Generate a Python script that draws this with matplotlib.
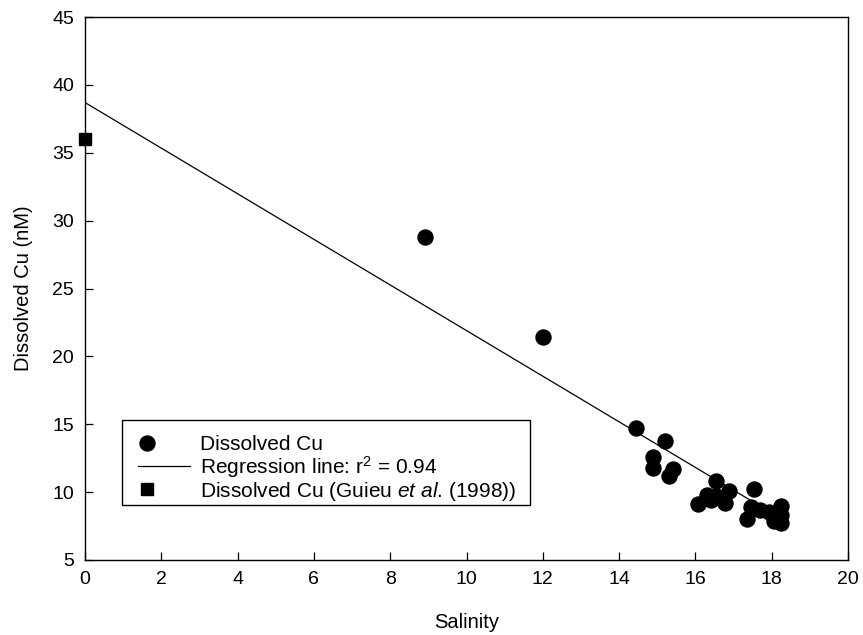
import matplotlib
matplotlib.use("Agg")
import matplotlib.pyplot as plt
from matplotlib.legend_handler import HandlerLine2D
from matplotlib.patches import Rectangle
import numpy as np

plt.rcParams['font.family'] = ['Liberation Sans', 'DejaVu Sans']
plt.rcParams['mathtext.fontset'] = 'custom'
plt.rcParams['mathtext.rm'] = 'Liberation Sans'
plt.rcParams['mathtext.it'] = 'Liberation Sans:italic'
plt.rcParams['mathtext.bf'] = 'Liberation Sans:bold'

salinity = [8.9, 12.0, 14.45, 15.2, 14.9, 14.88, 15.42, 15.3, 16.55, 16.3, 16.08,
            16.4, 16.88, 16.77, 16.55, 17.54, 17.47, 17.34, 17.7, 17.93, 18.24,
            18.24, 18.24, 18.07]
cu = [28.8, 21.4, 14.7, 13.8, 12.6, 11.8, 11.7, 11.2, 10.8, 9.8, 9.1,
      9.4, 10.1, 9.2, 9.7, 10.2, 8.9, 8.0, 8.7, 8.5, 9.0,
      8.3, 7.7, 7.9]

guieu_salinity = [0.0]
guieu_cu = [36.0]

reg_intercept = 38.7
reg_slope = -1.68
reg_x = [0.0, 18.2]

xticks = [0, 2, 4, 6, 8, 10, 12, 14, 16, 18, 20]
yticks = [5, 10, 15, 20, 25, 30, 35, 40, 45]


class MarkerLeftHandler(HandlerLine2D):
    """Place marker-only legend symbols near the left of the handle box."""
    def create_artists(self, legend, orig_handle, xdescent, ydescent,
                       width, height, fontsize, trans):
        artists = super().create_artists(legend, orig_handle, xdescent, ydescent,
                                         width, height, fontsize, trans)
        if orig_handle.get_linestyle() in ('None', 'none', '', ' '):
            x0 = -xdescent
            xm = x0 + 0.18 * width
            for a in artists:
                a.set_xdata([x0, xm, x0 + width])
        return artists


fig = plt.figure(figsize=(8.63, 6.35), dpi=100)
ax = fig.add_axes([85/863, 1 - 560/635, 763/863, 543/635])

h1, = ax.plot(salinity, cu, 'o', color='black', markersize=10.8, clip_on=False,
              label='Dissolved Cu', zorder=3)
rx = np.array(reg_x)
h2, = ax.plot(rx, reg_intercept + reg_slope * rx, '-', color='black', linewidth=0.9,
              label='Regression line: r$^2$ = 0.94', zorder=2)
h3, = ax.plot(guieu_salinity, guieu_cu, 's', color='black', markersize=9, clip_on=False,
              label='Dissolved Cu (Guieu $\\it{et\\ al}$. (1998))', zorder=3)

ax.set_xlim(0, 20)
ax.set_ylim(5, 45)
ax.set_xticks(xticks)
ax.set_yticks(yticks)
ax.tick_params(direction='in', length=6, width=0.9, labelsize=14, pad=8,
               top=False, right=False)
for sp in ax.spines.values():
    sp.set_linewidth(1.0)

ax.set_xlabel('Salinity', fontsize=14.5, labelpad=18)
ax.set_ylabel('Dissolved Cu (nM)', fontsize=14.5, labelpad=14)

# legend frame
ax.add_patch(Rectangle((0.0485, 0.1013), 0.5347, 0.1565, transform=ax.transAxes,
                       facecolor='white', edgecolor='black', linewidth=1.0,
                       zorder=4))

leg = ax.legend(handles=[h1, h2, h3], loc='center left',
                bbox_to_anchor=(0.0695, 0.168), fontsize=15, frameon=False,
                handlelength=2.5, handletextpad=0.48, borderpad=0.0,
                labelspacing=0.0, borderaxespad=0, numpoints=1,
                handler_map={h1: MarkerLeftHandler(), h3: MarkerLeftHandler()})
leg.set_zorder(5)

fig.savefig('out.png', dpi=100)
